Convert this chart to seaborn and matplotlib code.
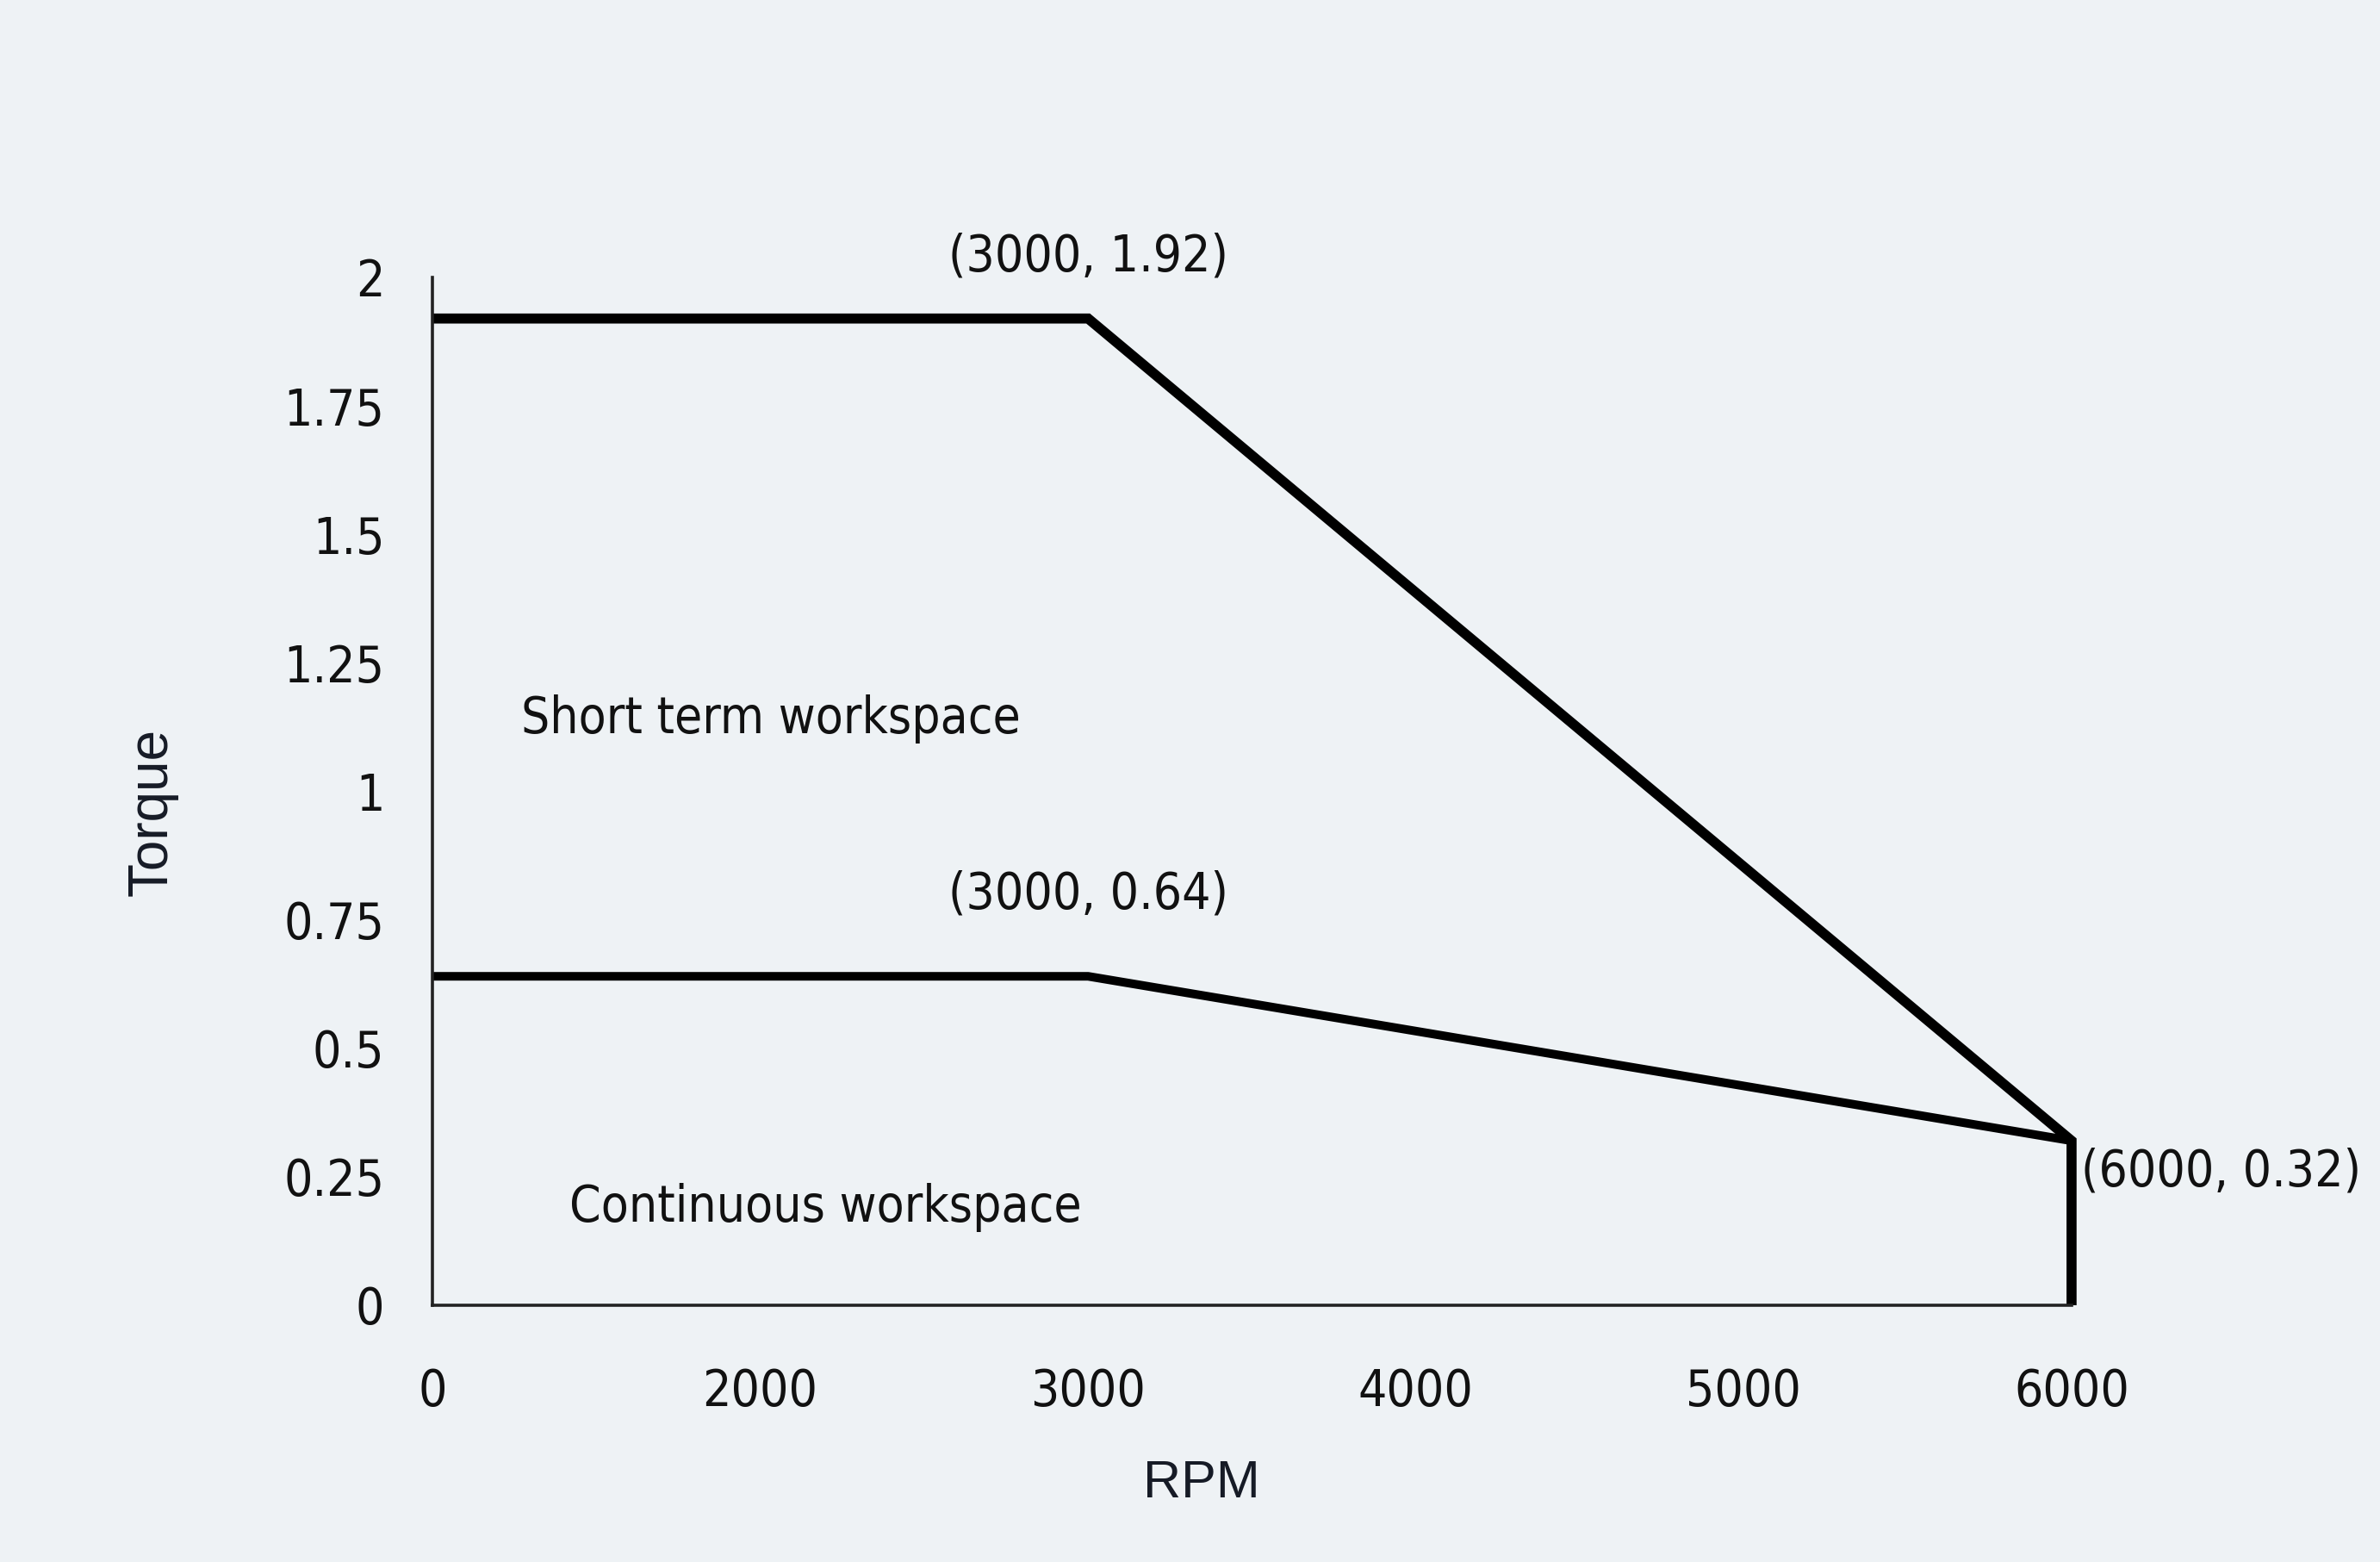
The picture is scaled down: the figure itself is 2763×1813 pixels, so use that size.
import numpy as np
import matplotlib
matplotlib.use("Agg")
import matplotlib.pyplot as plt
import seaborn as sns

# torque curve data
rpm_ticks = [0, 2000, 3000, 4000, 5000, 6000]
torque_ticks = [0, 0.25, 0.5, 0.75, 1, 1.25, 1.5, 1.75, 2]
torque_tick_labels = ["0", "0.25", "0.5", "0.75", "1", "1.25", "1.5", "1.75", "2"]

short_rpm = [0, 3000, 6000, 6000]
short_torque = [1.92, 1.92, 0.32, 0.0]
cont_rpm = [0, 3000, 6000]
cont_torque = [0.64, 0.64, 0.32]

bg = "#eef2f5"
ink = "#111111"
sns.set_theme(style="white", rc={"axes.facecolor": bg, "figure.facecolor": bg})
cond = dict(family=["DejaVu Sans"], stretch="condensed", color=ink)

fig = plt.figure(figsize=(13.815, 9.065), dpi=200)
ax = fig.add_axes([0.1817, 0.1644, 0.8704 - 0.1817, 0.8224 - 0.1644])

# tick labels are evenly spaced even though the values are not
idx = np.arange(len(rpm_ticks))
fwd = lambda v: np.interp(v, rpm_ticks, idx)
inv = lambda i: np.interp(i, idx, rpm_ticks)
ax.set_xscale("function", functions=(fwd, inv))

sns.lineplot(x=short_rpm, y=short_torque, sort=False, estimator=None,
             color="black", linewidth=4.2, ax=ax, clip_on=False,
             solid_capstyle="butt", solid_joinstyle="miter")
sns.lineplot(x=cont_rpm, y=cont_torque, sort=False, estimator=None,
             color="black", linewidth=3.6, ax=ax, clip_on=False,
             solid_capstyle="butt")

ax.set_xlim(0, 6000)
ax.set_ylim(0, 2)
ax.set_xticks(rpm_ticks)
ax.set_xticklabels([str(v) for v in rpm_ticks], fontsize=21, **cond)
ax.set_yticks(torque_ticks)
ax.set_yticklabels(torque_tick_labels, fontsize=21, **cond)
ax.tick_params(axis="both", length=0)
ax.tick_params(axis="y", pad=20)
ax.tick_params(axis="x", pad=26)
ax.minorticks_off()

for s in ["top", "right"]:
    ax.spines[s].set_visible(False)
for s in ["left", "bottom"]:
    ax.spines[s].set_color("#222222")
    ax.spines[s].set_linewidth(1.3)

ax.text(3000, 2.04, "(3000, 1.92)", ha="center", va="center", fontsize=21, **cond)
ax.text(3000, 0.80, "(3000, 0.64)", ha="center", va="center", fontsize=21, **cond)
ax.annotate("(6000, 0.32)", xy=(6000, 0.26), xytext=(4, 0), textcoords="offset points",
            ha="left", va="center", fontsize=21, annotation_clip=False, **cond)
ax.text(540, 1.14, "Short term workspace", ha="left", va="center", fontsize=21, **cond)
ax.text(835, 0.19, "Continuous workspace", ha="left", va="center", fontsize=21, **cond)

fig.text(0.505, 0.05, "RPM", ha="center", va="center", fontsize=22,
         family=["Liberation Sans"], color="#161b26")
fig.text(0.064, 0.48, "Torque", ha="center", va="center", rotation=90, fontsize=23,
         family=["Liberation Sans"], color="#161b26")

fig.savefig("out.png", dpi=200, facecolor=bg)
